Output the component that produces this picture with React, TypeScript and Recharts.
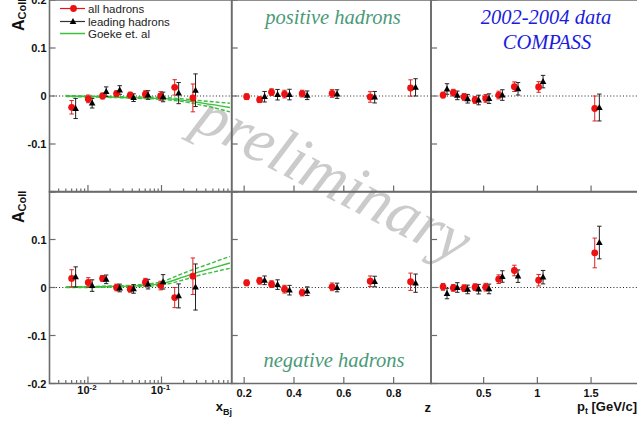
import {
  ComposedChart,
  Scatter,
  ErrorBar,
  Line,
  XAxis,
  YAxis,
  ReferenceLine,
  ReferenceArea,
} from "recharts";

// bin positions (all hadrons / leading hadrons are drawn slightly apart)
const xbjAll = [0.006, 0.0101, 0.0158, 0.0245, 0.0376, 0.0604, 0.0973, 0.151, 0.267];
const xbjLead = [0.0068, 0.0114, 0.0177, 0.027, 0.0417, 0.0656, 0.105, 0.171, 0.29];
const zAll = [0.21, 0.262, 0.31, 0.362, 0.433, 0.553, 0.706, 0.868];
const zLead = [0.282, 0.334, 0.382, 0.453, 0.573, 0.724, 0.888];
const ptAll = [0.122, 0.218, 0.318, 0.42, 0.519, 0.64, 0.786, 1.012, 1.534];
const ptLead = [0.159, 0.255, 0.351, 0.453, 0.55, 0.674, 0.82, 1.053, 1.577];

// positive hadrons
const posXbjAll = [-0.0235, -0.006, 0.0, 0.005, 0.002, 0.004, 0.0, 0.018, -0.004];
const posXbjAllErr = [0.014, 0.008, 0.006, 0.006, 0.006, 0.007, 0.009, 0.016, 0.029];
const posXbjLead = [-0.026, -0.015, 0.009, 0.0125, -0.0035, 0.002, -0.002, 0.006, 0.012];
const posXbjLeadErr = [0.021, 0.01, 0.01, 0.009, 0.008, 0.009, 0.01, 0.022, 0.034];
const posZAll = [-0.0015, -0.0077, 0.008, 0.004, 0.005, 0.0053, -0.002, 0.0167];
const posZAllErr = [0.006, 0.006, 0.007, 0.008, 0.007, 0.008, 0.011, 0.017];
const posZLead = [-0.0015, 0.0027, 0.003, 0.0015, 0.004, -0.0025, 0.018];
const posZLeadErr = [0.011, 0.011, 0.011, 0.009, 0.009, 0.012, 0.018];
const posPtAll = [0.002, 0.0069, -0.002, -0.0083, -0.005, 0.002, 0.0194, 0.0188, -0.026];
const posPtAllErr = [0.006, 0.007, 0.007, 0.007, 0.008, 0.008, 0.01, 0.011, 0.026];
const posPtLead = [0.0146, 0.0013, -0.0057, -0.0083, -0.0055, 0.002, 0.015, 0.03, -0.024];
const posPtLeadErr = [0.011, 0.009, 0.009, 0.01, 0.01, 0.011, 0.013, 0.013, 0.028];

// negative hadrons
const negXbjAll = [0.019, 0.0104, 0.019, 0.0, -0.0035, 0.011, 0.004, -0.021, 0.0235];
const negXbjAllErr = [0.018, 0.01, 0.006, 0.007, 0.006, 0.008, 0.009, 0.021, 0.038];
const negXbjLead = [0.022, 0.004, 0.017, -0.001, -0.003, 0.007, 0.0118, -0.0175, 0.001];
const negXbjLeadErr = [0.021, 0.012, 0.009, 0.008, 0.009, 0.01, 0.015, 0.025, 0.048];
const negZAll = [0.0097, 0.0139, 0.007, -0.0035, -0.0105, 0.0014, 0.013, 0.012];
const negZAllErr = [0.006, 0.007, 0.007, 0.008, 0.007, 0.008, 0.011, 0.018];
const negZLead = [0.015, 0.006, -0.0056, -0.0077, 0.0, 0.0125, 0.009];
const negZLeadErr = [0.009, 0.01, 0.01, 0.009, 0.009, 0.011, 0.019];
const negPtAll = [0.0014, -0.0008, -0.0015, 0.0007, 0.0007, 0.0173, 0.0354, 0.0152, 0.072];
const negPtAllErr = [0.007, 0.007, 0.007, 0.007, 0.008, 0.009, 0.011, 0.012, 0.031];
const negPtLead = [-0.0125, 0.0, -0.004, -0.0035, -0.003, 0.0229, 0.0236, 0.0215, 0.0937];
const negPtLeadErr = [0.011, 0.01, 0.009, 0.01, 0.01, 0.012, 0.013, 0.014, 0.034];

// Goeke et al. prediction (central value and band edges)
const goekeX = [0.005, 0.01, 0.02, 0.05, 0.1, 0.2, 0.3, 0.5, 0.85];
const goekePosHigh = [0.001, 0.0, -0.001, -0.002, -0.003, -0.006, -0.009, -0.012, -0.015];
const goekePosMid = [0.0, -0.001, -0.002, -0.004, -0.005, -0.009, -0.013, -0.018, -0.024];
const goekePosLow = [-0.001, -0.002, -0.003, -0.005, -0.007, -0.012, -0.017, -0.024, -0.033];
const goekeNegHigh = [0.001, 0.002, 0.003, 0.006, 0.012, 0.03, 0.04, 0.052, 0.065];
const goekeNegMid = [0.0005, 0.001, 0.002, 0.004, 0.008, 0.022, 0.031, 0.041, 0.051];
const goekeNegLow = [0.0, 0.0, 0.001, 0.002, 0.005, 0.016, 0.024, 0.032, 0.04];

// axis ranges and ticks
const yDomain: [number, number] = [-0.2, 0.2];
const yTicks = [-0.2, -0.1, 0, 0.1, 0.2];
const yLabelsTop = [0.2, 0.1, 0, -0.1];
const yLabelsBottom = [0.1, 0, -0.1, -0.2];
const xbjDomain: [number, number] = [0.003, 0.9];
const xbjTicks = [
  0.004, 0.005, 0.006, 0.007, 0.008, 0.009, 0.01, 0.02, 0.03, 0.04, 0.05, 0.06, 0.07,
  0.08, 0.09, 0.1, 0.2, 0.3, 0.4, 0.5, 0.6, 0.7, 0.8,
];
const zDomain: [number, number] = [0.15, 0.95];
const zTicks = [0.2, 0.4, 0.6, 0.8];
const ptDomain: [number, number] = [0.01, 1.96];
const ptTicks = [0.5, 1, 1.5];

const legendNames = ["all hadrons", "leading hadrons", "Goeke et. al"];

const W = 650;
const H = 425;
const AXIS_W = 30;
const AXIS_H = 30;
const frameColor = "#6b6b6b";
const red = "#ee1111";
const green = "#3cbf3c";
const sans = "'Liberation Sans', Arial, Helvetica, sans-serif";
const serif = "'Liberation Serif', 'Times New Roman', serif";

type Pt = { x: number; y: number; e: number };
const points = (xs: number[], ys: number[], es: number[]): Pt[] =>
  xs.map((x, i) => ({ x, y: ys[i], e: es[i] }));
const curve = (ys: number[]) => goekeX.map((x, i) => ({ x, y: ys[i] }));

const CircleDot = (p: any) => <circle cx={p.cx} cy={p.cy} r={3.4} fill={red} />;
const TriangleDot = (p: any) => (
  <polygon
    points={`${p.cx},${p.cy - 3.6} ${p.cx - 3.3},${p.cy + 2.4} ${p.cx + 3.3},${p.cy + 2.4}`}
    fill="#000"
  />
);

const labelStyle = { fontSize: 11, fontWeight: 700, fontFamily: sans, fill: "#111" };

function yTick(labelled: number[]) {
  return (p: any) => {
    const v = p.payload.value;
    return (
      <g>
        <line x1={p.x} x2={p.x + 6} y1={p.y} y2={p.y} stroke={frameColor} strokeWidth={1.2} />
        {labelled.includes(v) && (
          <text x={p.x - 3} y={p.y + 4} textAnchor="end" {...labelStyle}>
            {String(v)}
          </text>
        )}
      </g>
    );
  };
}

function linTick(show: boolean) {
  return (p: any) => (
    <g>
      <line x1={p.x} x2={p.x} y1={p.y} y2={p.y - 6.5} stroke={frameColor} strokeWidth={1.2} />
      {show && (
        <text x={p.x} y={p.y + 13.5} textAnchor="middle" {...labelStyle}>
          {String(p.payload.value)}
        </text>
      )}
    </g>
  );
}

function logTick(show: boolean) {
  return (p: any) => {
    const lg = Math.log10(p.payload.value);
    const exp = Math.round(lg);
    const major = Math.abs(lg - exp) < 1e-6;
    return (
      <g>
        <line
          x1={p.x}
          x2={p.x}
          y1={p.y}
          y2={p.y - (major ? 7 : 3.5)}
          stroke={frameColor}
          strokeWidth={1.2}
        />
        {show && major && (
          <text x={p.x - 1} y={p.y + 10.5} textAnchor="middle" {...labelStyle}>
            10
            <tspan dy={-4} fontSize={8}>
              {exp}
            </tspan>
          </text>
        )}
      </g>
    );
  };
}

type PanelProps = {
  left: number;
  right: number;
  top: number;
  bottom: number;
  xDomain: [number, number];
  xTicks: number[];
  log?: boolean;
  xLabels: boolean;
  yLabels: number[];
  all: Pt[];
  lead: Pt[];
  band?: { x: number; y: number }[][];
};

function Panel(props: PanelProps) {
  const { left, right, top, bottom, xDomain, xTicks, log, xLabels, yLabels, all, lead, band } = props;
  const margin = { left: left - AXIS_W, top, right: W - right, bottom: H - bottom - AXIS_H };
  return (
    <div style={{ position: "absolute", left: 0, top: 0 }}>
      <ComposedChart width={W} height={H} margin={margin}>
        <XAxis
          dataKey="x"
          type="number"
          scale={log ? "log" : "linear"}
          domain={xDomain}
          ticks={xTicks}
          interval={0}
          allowDataOverflow
          height={AXIS_H}
          axisLine={false}
          tickLine={false}
          tickSize={0}
          tickMargin={0}
          tick={log ? logTick(xLabels) : linTick(xLabels)}
        />
        <YAxis
          dataKey="y"
          type="number"
          domain={yDomain}
          ticks={yTicks}
          interval={0}
          allowDataOverflow
          width={AXIS_W}
          axisLine={false}
          tickLine={false}
          tickSize={0}
          tickMargin={0}
          tick={yTick(yLabels)}
        />
        <ReferenceArea
          x1={xDomain[0]}
          x2={xDomain[1]}
          y1={yDomain[0]}
          y2={yDomain[1]}
          fill="none"
          fillOpacity={0}
          stroke={frameColor}
          strokeWidth={1.6}
        />
        <ReferenceLine y={0} stroke="#222" strokeDasharray="1 2.2" />
        {band &&
          band.map((d, i) => (
            <Line
              key={i}
              data={d}
              dataKey="y"
              type="monotone"
              stroke={green}
              strokeWidth={1.4}
              strokeDasharray={i === 1 ? undefined : "4 2"}
              dot={false}
              isAnimationActive={false}
            />
          ))}
        <Scatter data={all} dataKey="y" fill={red} shape={CircleDot} isAnimationActive={false}>
          <ErrorBar dataKey="e" direction="y" width={2.2} stroke="#dd2222" strokeWidth={1} />
        </Scatter>
        <Scatter data={lead} dataKey="y" fill="#000" shape={TriangleDot} isAnimationActive={false}>
          <ErrorBar dataKey="e" direction="y" width={2.2} stroke="#222" strokeWidth={1} />
        </Scatter>
      </ComposedChart>
    </div>
  );
}

const col1 = { left: 49.5, right: 231.7 };
const col2 = { left: 231.7, right: 431 };
const col3 = { left: 431, right: 640.5 };
const rowTop = { top: 0, bottom: 192 };
const rowBottom = { top: 191.5, bottom: 383.5 };

export default function App() {
  return (
    <div
      style={{
        position: "absolute",
        left: 0,
        top: 0,
        width: 637,
        height: 425,
        overflow: "hidden",
        background: "#fff",
      }}
    >
      <svg width={637} height={425} style={{ position: "absolute", left: 0, top: 0 }}>
        <text
          x={324}
          y={196}
          transform="rotate(27 324 196)"
          textAnchor="middle"
          fontFamily={serif}
          fontStyle="italic"
          fontSize={64}
          fill="#cbcbcb"
        >
          preliminary
        </text>
      </svg>

      <Panel
        {...col1}
        {...rowTop}
        xDomain={xbjDomain}
        xTicks={xbjTicks}
        log
        xLabels={false}
        yLabels={yLabelsTop}
        all={points(xbjAll, posXbjAll, posXbjAllErr)}
        lead={points(xbjLead, posXbjLead, posXbjLeadErr)}
        band={[curve(goekePosHigh), curve(goekePosMid), curve(goekePosLow)]}
      />
      <Panel
        {...col2}
        {...rowTop}
        xDomain={zDomain}
        xTicks={zTicks}
        xLabels={false}
        yLabels={[]}
        all={points(zAll, posZAll, posZAllErr)}
        lead={points(zLead, posZLead, posZLeadErr)}
      />
      <Panel
        {...col3}
        {...rowTop}
        xDomain={ptDomain}
        xTicks={ptTicks}
        xLabels={false}
        yLabels={[]}
        all={points(ptAll, posPtAll, posPtAllErr)}
        lead={points(ptLead, posPtLead, posPtLeadErr)}
      />
      <Panel
        {...col1}
        {...rowBottom}
        xDomain={xbjDomain}
        xTicks={xbjTicks}
        log
        xLabels
        yLabels={yLabelsBottom}
        all={points(xbjAll, negXbjAll, negXbjAllErr)}
        lead={points(xbjLead, negXbjLead, negXbjLeadErr)}
        band={[curve(goekeNegHigh), curve(goekeNegMid), curve(goekeNegLow)]}
      />
      <Panel
        {...col2}
        {...rowBottom}
        xDomain={zDomain}
        xTicks={zTicks}
        xLabels
        yLabels={[]}
        all={points(zAll, negZAll, negZAllErr)}
        lead={points(zLead, negZLead, negZLeadErr)}
      />
      <Panel
        {...col3}
        {...rowBottom}
        xDomain={ptDomain}
        xTicks={ptTicks}
        xLabels
        yLabels={[]}
        all={points(ptAll, negPtAll, negPtAllErr)}
        lead={points(ptLead, negPtLead, negPtLeadErr)}
      />

      <svg
        width={637}
        height={425}
        style={{ position: "absolute", left: 0, top: 0, pointerEvents: "none" }}
      >
        {/* y titles */}
        {[31, 223].map((y) => (
          <text
            key={y}
            transform={`translate(24 ${y}) rotate(-90)`}
            fontFamily={sans}
            fontWeight={700}
            fontSize={16}
            fill="#111"
          >
            A
            <tspan fontSize={11} dy={2}>
              Coll
            </tspan>
          </text>
        ))}
        {/* x titles */}
        <text x={232} y={411} textAnchor="end" fontFamily={sans} fontWeight={700} fontSize={13} fill="#111">
          x
          <tspan fontSize={9} dy={4}>
            Bj
          </tspan>
        </text>
        <text x={431} y={412} textAnchor="end" fontFamily={sans} fontWeight={700} fontSize={13} fill="#111">
          z
        </text>
        <text x={637} y={411} textAnchor="end" fontFamily={sans} fontWeight={700} fontSize={13} fill="#111">
          p
          <tspan fontSize={9} dy={3}>
            t
          </tspan>
          <tspan dy={-3}> [GeV/c]</tspan>
        </text>

        {/* legend */}
        <g fontFamily={sans} fontSize={11.5} fill="#222">
          <line x1={60} x2={85} y1={8.5} y2={8.5} stroke={red} strokeWidth={1.2} />
          <circle cx={73.5} cy={8.5} r={3.4} fill={red} />
          <text x={88} y={12.5}>{legendNames[0]}</text>
          <line x1={60} x2={85} y1={21.5} y2={21.5} stroke="#333" strokeWidth={1.2} />
          <polygon points="73,17.9 69.7,23.9 76.3,23.9" fill="#000" />
          <text x={88} y={25.5}>{legendNames[1]}</text>
          <line x1={60} x2={85} y1={33.5} y2={33.5} stroke={green} strokeWidth={1.5} />
          <text x={88} y={37.5}>{legendNames[2]}</text>
        </g>

        {/* annotations */}
        <g fontFamily={serif} fontStyle="italic" fontSize={20.5} textAnchor="middle">
          <text x={333} y={23.5} fill="#4a9a78">
            positive hadrons
          </text>
          <text x={334} y={366.5} fill="#4a9a78">
            negative hadrons
          </text>
          <text x={546} y={24} fill="#1c1cdc">
            2002-2004 data
          </text>
          <text x={547} y={48.5} fill="#1c1cdc">
            COMPASS
          </text>
        </g>
      </svg>
    </div>
  );
}
